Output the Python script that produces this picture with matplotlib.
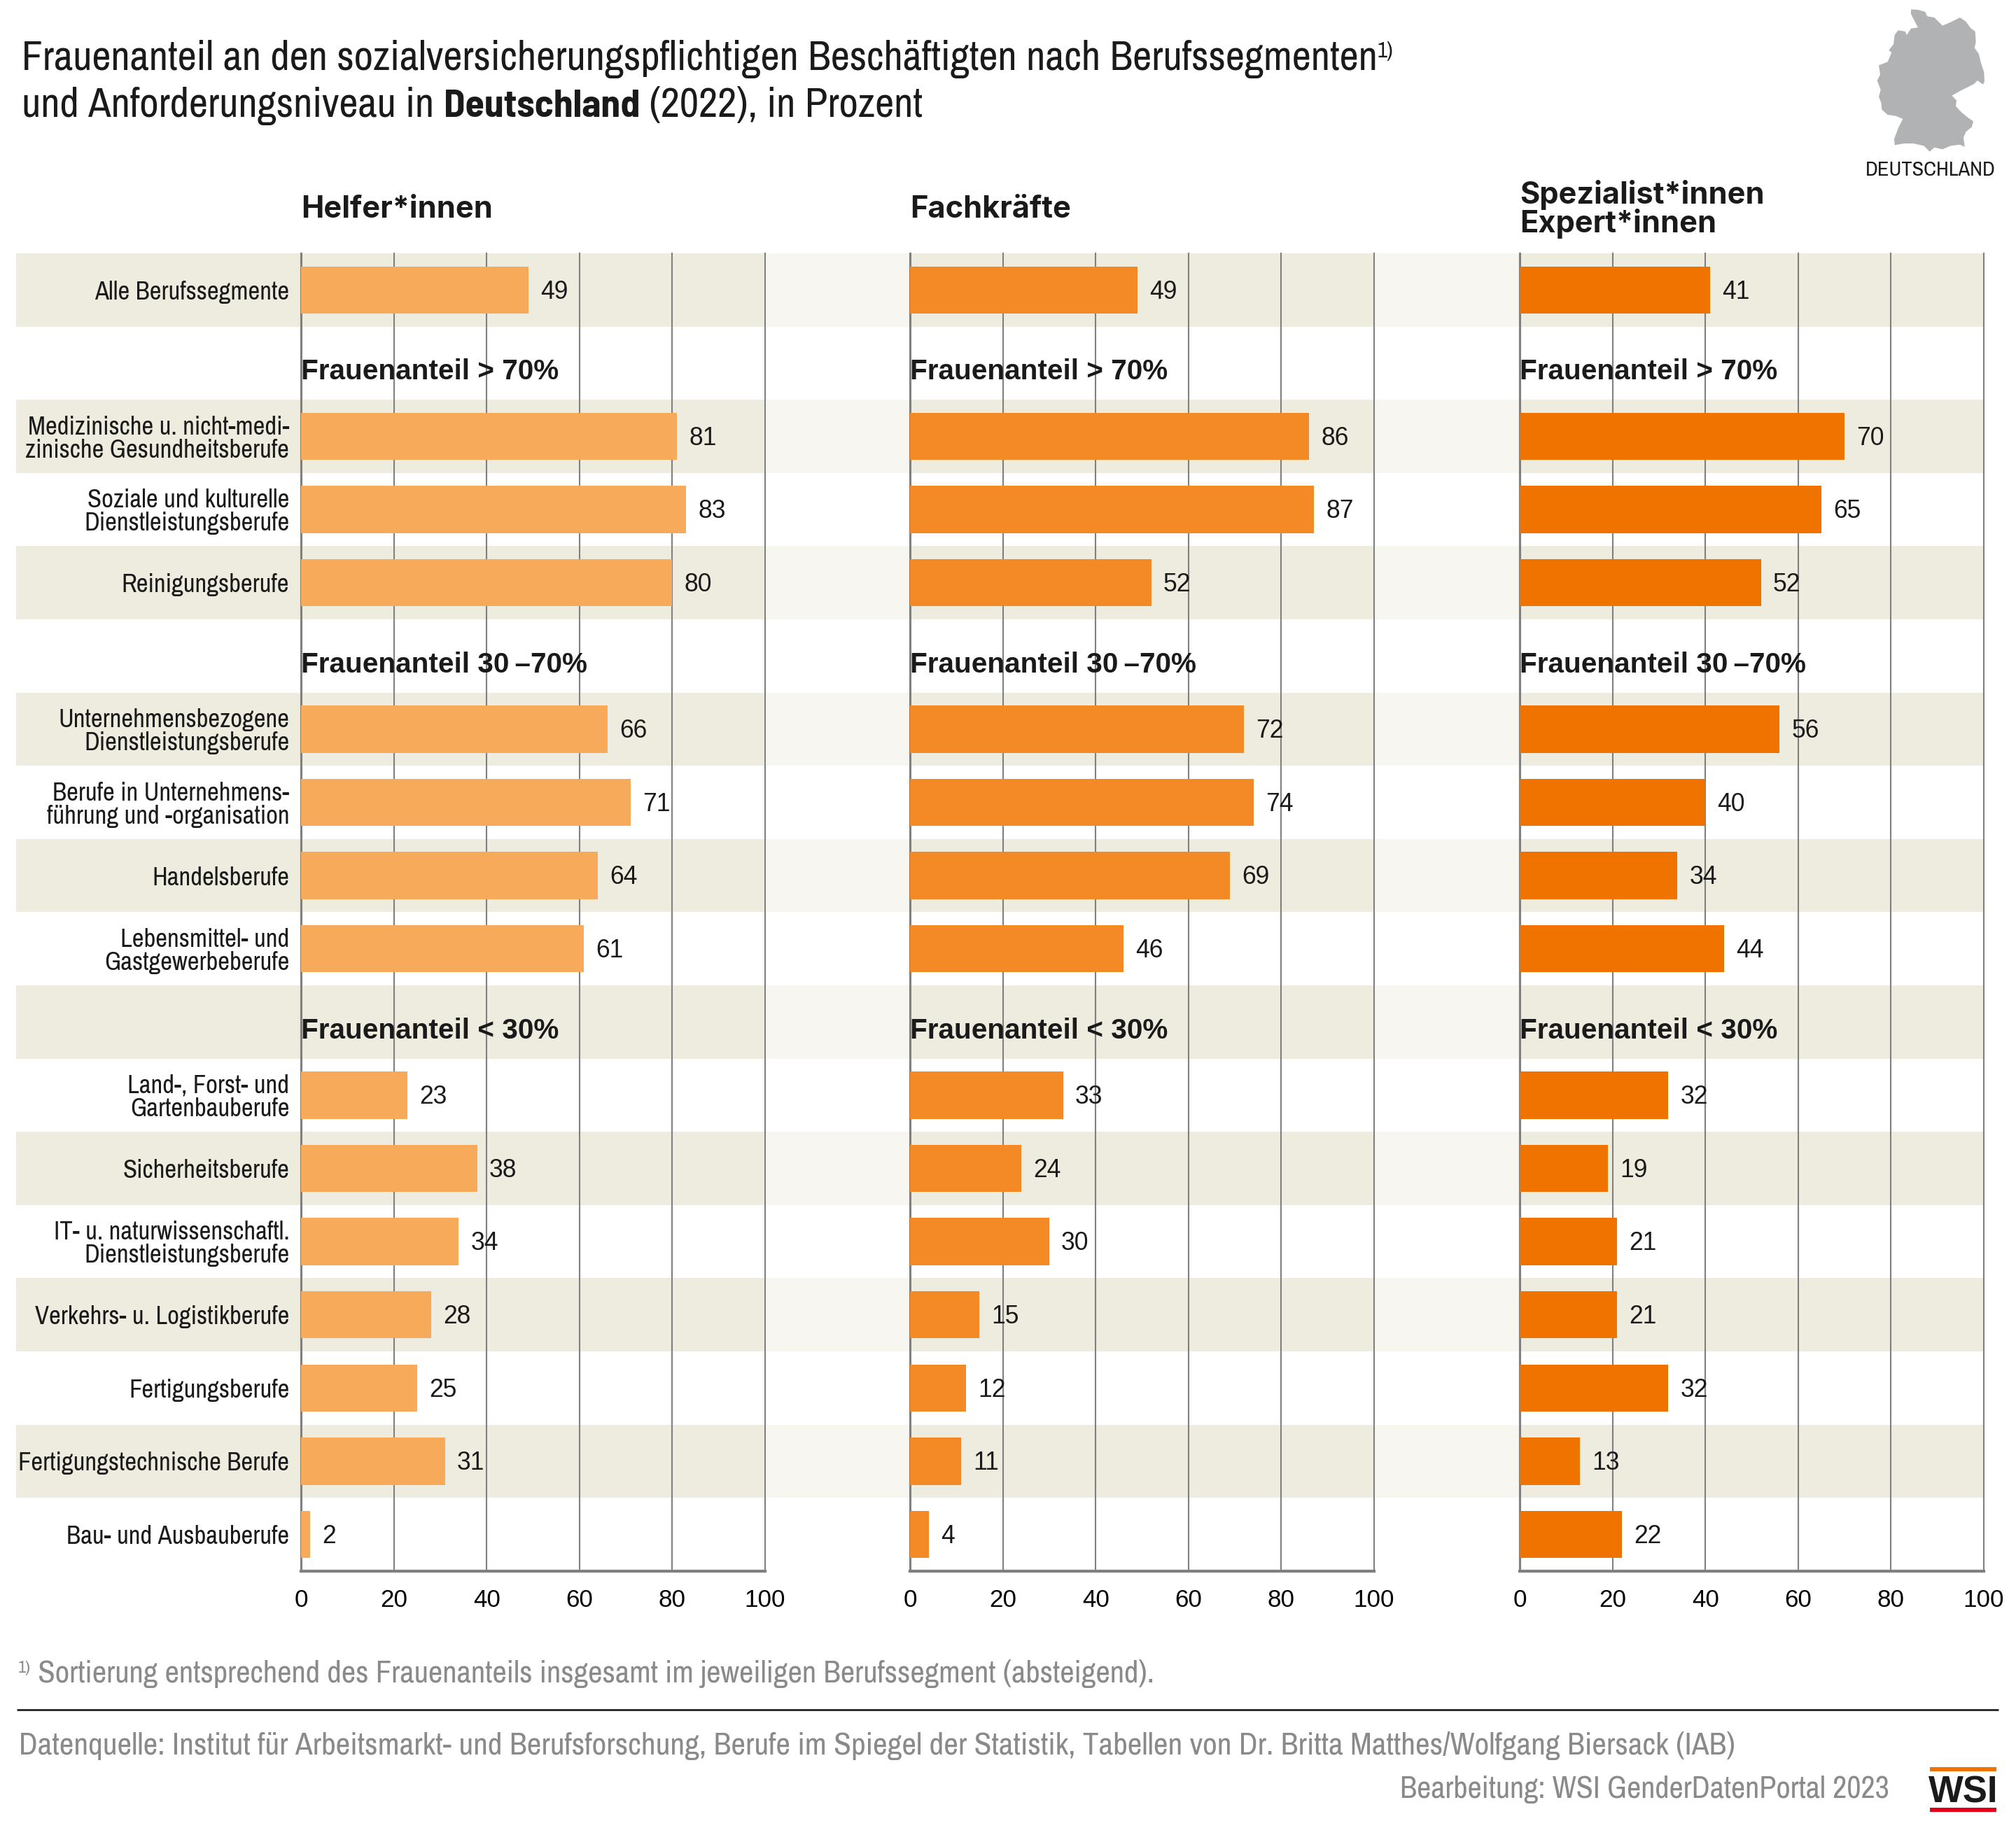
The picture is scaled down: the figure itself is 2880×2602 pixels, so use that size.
import matplotlib
matplotlib.use("Agg")
import matplotlib.pyplot as plt
from matplotlib.patches import Polygon, Rectangle

# --- CONFIGURATION ---
W, H = 2880, 2602
DPI = 200
NARROW = ["Archivo Narrow", "Liberation Sans"]
NARROW_BOLD = ["Barlow Semi Condensed", "Liberation Sans"]
HEAD = ["Inter", "Liberation Sans"]
WIDE = ["Liberation Sans", "DejaVu Sans"]
INK = "#1a1a1a"
GREY_TEXT = "#8a8a8a"
BAND = "#eeecdf"
BAND_LIGHT = "#f7f6f0"
GRID = "#808080"

ROW_TOP = 362
ROW_H = 104.6
N_ROWS = 18

# data
segments = [
    "Alle Berufssegmente",
    "Medizinische u. nicht-medi-\nzinische Gesundheitsberufe",
    "Soziale und kulturelle\nDienstleistungsberufe",
    "Reinigungsberufe",
    "Unternehmensbezogene\nDienstleistungsberufe",
    "Berufe in Unternehmens-\nführung und -organisation",
    "Handelsberufe",
    "Lebensmittel- und\nGastgewerbeberufe",
    "Land-, Forst- und\nGartenbauberufe",
    "Sicherheitsberufe",
    "IT- u. naturwissenschaftl.\nDienstleistungsberufe",
    "Verkehrs- u. Logistikberufe",
    "Fertigungsberufe",
    "Fertigungstechnische Berufe",
    "Bau- und Ausbauberufe",
]
helfer = [49, 81, 83, 80, 66, 71, 64, 61, 23, 38, 34, 28, 25, 31, 2]
fachkraefte = [49, 86, 87, 52, 72, 74, 69, 46, 33, 24, 30, 15, 12, 11, 4]
spezialisten = [41, 70, 65, 52, 56, 40, 34, 44, 32, 19, 21, 21, 32, 13, 22]
group_titles = [None, "Frauenanteil > 70%", "Frauenanteil 30\u2009–70%", "Frauenanteil < 30%"]
group_sizes = [1, 3, 4, 7]
x_ticks = [0, 20, 40, 60, 80, 100]

panels = [
    ("Helfer*innen", helfer, "#f7ab5a", 430),
    ("Fachkräfte", fachkraefte, "#f48a25", 1300),
    ("Spezialist*innen\nExpert*innen", spezialisten, "#f07300", 2171),
]
PANEL_W = 663

# outline of the locator map, in target pixels /3 relative to its corner
germany_outline = [
    (690, 40), (720, 42), (750, 50), (760, 70), (790, 75), (810, 95), (825, 110), (860, 95),
    (900, 75), (925, 92), (945, 120), (965, 135), (968, 180), (962, 205), (980, 230), (990, 270),
    (1003, 310), (1005, 350), (998, 362), (975, 345), (960, 360), (930, 375), (900, 390), (865, 410),
    (885, 430), (882, 455), (905, 480), (935, 505), (957, 520), (950, 545), (925, 565), (915, 590),
    (920, 630), (900, 620), (860, 625), (825, 640), (790, 632), (770, 650), (745, 625), (700, 615),
    (660, 615), (620, 622), (618, 595), (635, 550), (655, 510), (625, 497), (590, 492), (565, 470),
    (562, 440), (552, 415), (560, 385), (545, 345), (558, 320), (552, 280), (590, 265), (607, 225),
    (595, 215), (615, 190), (620, 150), (635, 130), (665, 135), (672, 150), (690, 122), (720, 118),
    (700, 80), (690, 60),
]

# row layout: one heading row in front of every group but the first
rows = []
heading_rows = []
r = 0
for title, size in zip(group_titles, group_sizes):
    if title is not None:
        heading_rows.append((r, title))
        r += 1
    rows.extend(range(r, r + size))
    r += size

fig = plt.figure(figsize=(W / DPI, H / DPI), dpi=DPI, facecolor="white")
bg = fig.add_axes([0, 0, 1, 1])
bg.set_xlim(0, W)
bg.set_ylim(H, 0)
bg.axis("off")


def draw_runs(x, y, runs, size, color=INK):
    """Lays text pieces out one after the other on a common baseline."""
    renderer = fig.canvas.get_renderer()
    for text, family, weight, rise, scale in runs:
        t = bg.text(x, y - rise, text, family=family, fontsize=size * scale, fontweight=weight,
                    color=color, ha="left", va="baseline")
        x += t.get_window_extent(renderer).width
    return x


# background bands, lighter between the panels
for i in range(0, N_ROWS, 2):
    y0 = ROW_TOP + i * ROW_H
    bg.add_patch(Rectangle((23, y0), panels[-1][3] + PANEL_W - 23, ROW_H, fc=BAND_LIGHT, ec="none"))
    bg.add_patch(Rectangle((23, y0), panels[0][3] + PANEL_W - 23, ROW_H, fc=BAND, ec="none"))
    for _, _, _, px in panels[1:]:
        bg.add_patch(Rectangle((px, y0), PANEL_W, ROW_H, fc=BAND, ec="none"))

# panels
for idx, (name, values, color, px) in enumerate(panels):
    ax = fig.add_axes([px / W, 1 - (ROW_TOP + N_ROWS * ROW_H) / H, PANEL_W / W, N_ROWS * ROW_H / H])
    ax.patch.set_alpha(0)
    ax.set_xlim(0, 100)
    ax.set_ylim(N_ROWS, 0)
    ax.barh([ri + 0.5 for ri in rows], values, height=0.645, color=color, zorder=3)
    for ri, v in zip(rows, values):
        ax.annotate(str(v), (v, ri + 0.5), xytext=(6.2, -1), textcoords="offset points",
                    family=WIDE, fontsize=12.8, color=INK, ha="left", va="center", zorder=5)
    for ri, title in heading_rows:
        ax.text(0, ri + 0.62, title, family=WIDE, fontsize=14.6, fontweight="bold", color=INK,
                ha="left", va="center", zorder=6)

    ax.set_xticks(x_ticks)
    ax.tick_params(axis="x", length=0, pad=9, labelsize=12.6, labelcolor="black")
    for lab in ax.get_xticklabels():
        lab.set_family(WIDE)
    ax.grid(axis="x", color=GRID, lw=0.75, zorder=1)
    for line in ax.get_xgridlines():
        line.set_clip_on(False)
    ax.set_axisbelow(True)
    for side in ("top", "right"):
        ax.spines[side].set_visible(False)
    ax.spines["left"].set_color(GRID)
    ax.spines["left"].set_linewidth(1.1)
    ax.spines["bottom"].set_color(GRID)
    ax.spines["bottom"].set_linewidth(1.5)

    if idx == 0:
        ax.set_yticks([ri + 0.5 for ri in rows])
        ax.set_yticklabels(segments, family=NARROW, fontsize=13.2, color=INK, ma="right", linespacing=1.0)
        ax.tick_params(axis="y", length=0, pad=6)
    else:
        ax.set_yticks([])

    # column heading
    bg.text(px, 311 if "\n" not in name else 332, name, family=HEAD, fontsize=15.6, fontweight="bold", color=INK,
            ha="left", va="baseline", linespacing=0.95)

# title
draw_runs(31, 100, [
    ("Frauenanteil an den sozialversicherungspflichtigen Beschäftigten nach Berufssegmenten", NARROW, "normal", 0, 1),
    ("1)", NARROW, "normal", 18, 0.52),
], 21.4)
draw_runs(31, 167, [
    ("und Anforderungsniveau in ", NARROW, "normal", 0, 1),
    ("Deutschland", NARROW_BOLD, "bold", 0, 0.94),
    (" (2022), in Prozent", NARROW, "normal", 0, 1),
], 21.4)

# locator map
bg.add_patch(Polygon([(2500 + a / 3, b / 3) for a, b in germany_outline], closed=True, fc="#b1b2b4", ec="none"))
bg.text(2758, 251, "DEUTSCHLAND", family=NARROW, fontsize=10.9, color=INK, ha="center", va="baseline")

# footnote and source
draw_runs(26, 2404, [
    ("1)", NARROW, "normal", 14, 0.55),
    (" Sortierung entsprechend des Frauenanteils insgesamt im jeweiligen Berufssegment (absteigend).", NARROW, "normal", 0, 1),
], 16.1, color=GREY_TEXT)
bg.plot([24, 2855], [2443, 2443], color="#222222", lw=1.0, solid_capstyle="butt")
bg.text(27, 2507, "Datenquelle: Institut für Arbeitsmarkt- und Berufsforschung, Berufe im Spiegel der Statistik, "
        "Tabellen von Dr. Britta Matthes/Wolfgang Biersack (IAB)",
        family=NARROW, fontsize=16.3, color=GREY_TEXT, ha="left", va="baseline")
bg.text(2699, 2569, "Bearbeitung: WSI GenderDatenPortal 2023", family=NARROW, fontsize=15.9, color=GREY_TEXT,
        ha="right", va="baseline")

# WSI logo
bg.add_patch(Rectangle((2757, 2525), 95, 6, fc="#f07300", ec="none"))
bg.add_patch(Rectangle((2757, 2583), 95, 6, fc="#e2001a", ec="none"))
bg.text(2804.5, 2575, "WSI", family=WIDE, fontsize=19, fontweight="bold", color=INK, ha="center", va="baseline")

fig.savefig("out.png", dpi=DPI, facecolor="white")
